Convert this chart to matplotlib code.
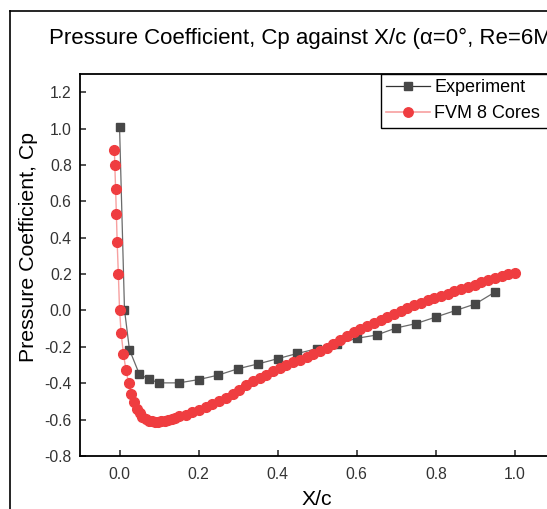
import matplotlib
matplotlib.use("Agg")
import matplotlib.pyplot as plt
from matplotlib.lines import Line2D

x_exp = [0.000, 0.0125, 0.025, 0.05, 0.075, 0.10, 0.15, 0.20, 0.25, 0.30, 0.35, 0.40,
         0.45, 0.50, 0.55, 0.60, 0.65, 0.70, 0.75, 0.80, 0.85, 0.90, 0.95]
cp_exp = [1.01, 0.005, -0.215, -0.350, -0.378, -0.398, -0.398, -0.380, -0.355, -0.320,
          -0.294, -0.265, -0.236, -0.210, -0.184, -0.153, -0.135, -0.096, -0.072, -0.036,
          0.000, 0.036, 0.102]

# FVM 8 cores solution
x_fvm = [-0.013, -0.012, -0.010, -0.008, -0.006, -0.003, 0.000, 0.004, 0.010, 0.016,
         0.023, 0.030, 0.037, 0.044, 0.051, 0.058, 0.066, 0.074, 0.082, 0.090, 0.098,
         0.106, 0.114, 0.123, 0.132, 0.141,
         0.150, 0.167, 0.184, 0.201, 0.218, 0.235, 0.252, 0.269, 0.286, 0.303, 0.320,
         0.337, 0.354, 0.371, 0.388, 0.405, 0.422, 0.439, 0.456, 0.473, 0.490, 0.507,
         0.524, 0.541, 0.558, 0.575, 0.592, 0.609, 0.626, 0.643, 0.660, 0.677, 0.694,
         0.711, 0.728, 0.745, 0.762, 0.779, 0.796, 0.813, 0.830, 0.847, 0.864, 0.881,
         0.898, 0.915, 0.932, 0.949, 0.966, 0.983, 1.000]
cp_fvm = [0.880, 0.800, 0.670, 0.530, 0.375, 0.200, 0.005, -0.125, -0.240, -0.325,
          -0.400, -0.460, -0.505, -0.540, -0.565, -0.583, -0.597, -0.605, -0.610, -0.612,
          -0.612, -0.610, -0.606, -0.601, -0.595, -0.589,
          -0.582, -0.572, -0.559, -0.546, -0.531, -0.516, -0.499, -0.481, -0.460, -0.436,
          -0.411, -0.390, -0.371, -0.352, -0.334, -0.317, -0.300, -0.285, -0.270, -0.254,
          -0.238, -0.221, -0.204, -0.184, -0.163, -0.141, -0.120, -0.102, -0.084, -0.068,
          -0.053, -0.038, -0.022, -0.004, 0.016, 0.031, 0.043, 0.055, 0.068, 0.081,
          0.093, 0.106, 0.118, 0.130, 0.142, 0.154, 0.166, 0.178, 0.189, 0.199, 0.207]

xticks = [0.0, 0.2, 0.4, 0.6, 0.8, 1.0]
yticks = [-0.8, -0.6, -0.4, -0.2, 0.0, 0.2, 0.4, 0.6, 0.8, 1.0, 1.2]

plt.rcParams['font.family'] = ['Liberation Sans', 'DejaVu Sans']

W, H = 547, 509
fig = plt.figure(figsize=(W / 100, H / 100), dpi=100)

# axes runs past the right edge, like the cropped original
ax = fig.add_axes([80 / W, 1 - 456 / H, 474.5 / W, 382 / H])

red = '#EF3D40'
gray = '#474747'

ax.plot(x_exp, cp_exp, color='#6a6a6a', lw=0.9, marker='s', ms=6.2,
        mfc=gray, mec=gray, zorder=2)
ax.plot(x_fvm, cp_fvm, color='#F7A0A0', lw=1.0, marker='o', ms=7.0,
        mfc=red, mec=red, zorder=3)

ax.set_xlim(-0.1, 1.1)
ax.set_ylim(-0.8, 1.3)
ax.set_xticks(xticks)
ax.set_yticks(yticks)
ax.set_xticklabels([f'{v:.1f}' for v in xticks])
ax.set_yticklabels([f'{v:.1f}' for v in yticks])
ax.tick_params(direction='in', length=4.5, width=1.1, labelsize=11.3,
               labelcolor='#333333', color='#222222')
ax.tick_params(axis='x', pad=8)
ax.tick_params(axis='y', pad=6)
for s in ax.spines.values():
    s.set_linewidth(1.3)

ax.set_xlabel('X/c', fontsize=15.3, labelpad=6)
ax.set_ylabel('Pressure Coefficient, Cp', fontsize=15.3)
ax.yaxis.set_label_coords(38 / W, 1 - 247 / H, transform=fig.transFigure)

# title is cut at the right edge in the original as well
fig.text(49 / W, 1 - 38 / H, 'Pressure Coefficient, Cp against X/c (\u03b1=0\u00b0, Re=6M)',
         fontsize=16.0, ha='left', va='center')

# outer frame (cropped page border)
fig.add_artist(Line2D([10 / W, 10 / W], [0, 1 - 11 / H], transform=fig.transFigure,
                      color='black', lw=1.2))
fig.add_artist(Line2D([10 / W, 1], [1 - 11 / H, 1 - 11 / H], transform=fig.transFigure,
                      color='black', lw=1.2))

h1 = Line2D([], [], color='#333333', lw=0.9, marker='s', ms=6.2, mfc=gray, mec=gray)
h2 = Line2D([], [], color='#F7A0A0', lw=1.2, marker='o', ms=6.8, mfc=red, mec=red)
leg = ax.legend([h1, h2], ['Experiment', 'FVM 8 Cores'], loc='upper left',
                bbox_to_anchor=(381 / W, 1 - 127 / H, 200 / W, 53 / H),
                bbox_transform=fig.transFigure, mode='expand', borderaxespad=0,
                borderpad=0.3, labelspacing=0.48, handlelength=2.4,
                handletextpad=0.25, fontsize=13.0, fancybox=False, framealpha=1)
leg.get_frame().set_edgecolor('black')
leg.get_frame().set_linewidth(1.0)

fig.savefig('out.png', dpi=100)
